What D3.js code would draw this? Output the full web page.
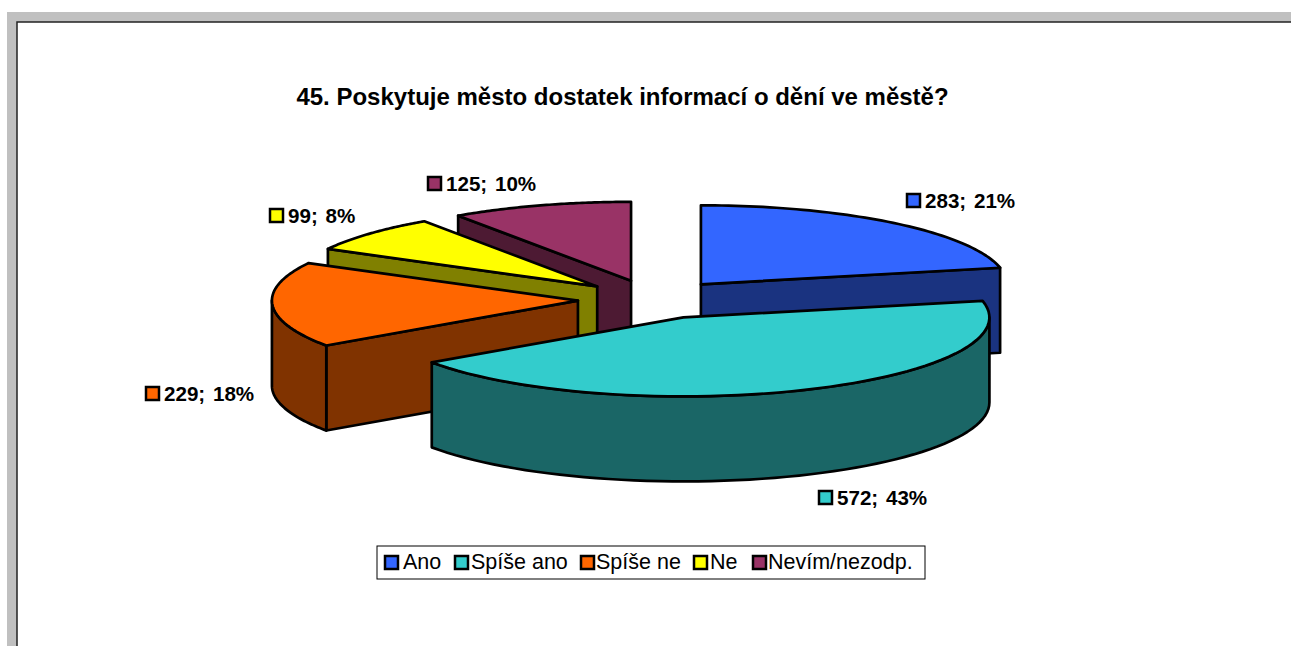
<!DOCTYPE html>
<html>
<head>
<meta charset="utf-8">
<script src="https://cdnjs.cloudflare.com/ajax/libs/d3/7.9.0/d3.min.js"></script>
<style>
  html, body { margin: 0; padding: 0; background: #fff; }
  svg { display: block; }
  text { font-family: "Liberation Sans", Arial, sans-serif; fill: #000; }
</style>
</head>
<body>
<svg id="chart" width="1291" height="646"></svg>
<script>
const TITLE = '45. Poskytuje město dostatek informací o dění ve městě?';
const categories = ['Ano', 'Spíše ano', 'Spíše ne', 'Ne', 'Nevím/nezodp.'];
const values = [283, 572, 229, 99, 125];
const percents = [21, 43, 18, 8, 10];
const topColors = ['#3366ff', '#33cccc', '#ff6600', '#ffff00', '#993366'];
const sideColors = ['#1a3380', '#1a6666', '#803300', '#808000', '#4d1a33'];

// layout
const W = 1291, H = 646;
const CX = 653.4, CY = 299.5, RX = 306, RY = 79, DEPTH = 85, EXPLODE = 0.247;
const drawOrder = [4, 3, 2, 0, 1];
const labelPos = [[906, 193], [818, 490], [145, 386], [269, 208], [427, 176]];
const legendPos = [384, 454, 580, 693, 752];
const legendTextX = [403, 471, 596, 710, 768];

const svg = d3.select('#chart');

// frame
svg.append('rect').attr('x', 7).attr('y', 12).attr('width', W - 7).attr('height', H - 12).attr('fill', '#c0c0c0');
svg.append('rect').attr('x', 17).attr('y', 22).attr('width', W - 17).attr('height', H - 22).attr('fill', '#fff');
svg.append('path').attr('d', `M17,${H}V22H${W}`).attr('fill', 'none').attr('stroke', '#222').attr('stroke-width', 1.5);

svg.append('text').attr('x', 622.5).attr('y', 105).attr('text-anchor', 'middle')
  .attr('font-size', 24).attr('font-weight', 'bold').text(TITLE);

// unit-circle coords -> screen
const sx = d3.scaleLinear().domain([-1, 1]).range([CX - RX, CX + RX]);
const sy = d3.scaleLinear().domain([-1, 1]).range([CY - RY, CY + RY]);
const line = d3.line();

const pie = d3.pie().sort(null).startAngle(0).endAngle(2 * Math.PI);
const slices = pie(values);

function pt(s, a, r, dy) {
  const mid = (s.startAngle + s.endAngle) / 2;
  const ux = EXPLODE * Math.sin(mid) + r * Math.sin(a);
  const uy = -EXPLODE * Math.cos(mid) - r * Math.cos(a);
  return [sx(ux), sy(uy) + dy];
}
const sweep = (a0, a1) => d3.range(0, 61).map((i) => a0 + (a1 - a0) * i / 60);

const pieG = svg.append('g').attr('stroke', '#000').attr('stroke-width', 2.7).attr('stroke-linejoin', 'round');

drawOrder.forEach((i) => {
  const s = slices[i];
  const a0 = s.startAngle, a1 = s.endAngle;
  const g = pieG.append('g');
  const cut = (a) => [pt(s, a, 0, 0), pt(s, a, 1, 0), pt(s, a, 1, DEPTH), pt(s, a, 0, DEPTH)];

  if (Math.sin(a0) < -1e-6) g.append('path').attr('d', line(cut(a0)) + 'Z').attr('fill', sideColors[i]);
  if (Math.sin(a1) > 1e-6) g.append('path').attr('d', line(cut(a1)) + 'Z').attr('fill', sideColors[i]);

  // outer wall, only the part turned to the viewer
  const r0 = Math.max(a0, Math.PI / 2), r1 = Math.min(a1, 3 * Math.PI / 2);
  if (r1 > r0) {
    const rim = sweep(r0, r1);
    const wall = rim.map((a) => pt(s, a, 1, 0)).concat(rim.slice().reverse().map((a) => pt(s, a, 1, DEPTH)));
    g.append('path').attr('d', line(wall) + 'Z').attr('fill', sideColors[i]);
  }

  const top = [pt(s, a0, 0, 0)].concat(sweep(a0, a1).map((a) => pt(s, a, 1, 0)));
  g.append('path').attr('d', line(top) + 'Z').attr('fill', topColors[i]);
});

function swatch(x, y, i) {
  svg.append('rect').attr('x', x + 1).attr('y', y + 1).attr('width', 13).attr('height', 13)
    .attr('fill', topColors[i]).attr('stroke', '#000').attr('stroke-width', 2.5);
}

// data labels
values.forEach((v, i) => {
  const [x, y] = labelPos[i];
  swatch(x, y, i);
  svg.append('text').attr('x', x + 19).attr('y', y + 15).attr('font-size', 20.6).attr('font-weight', 'bold')
    .attr('word-spacing', 2).text(`${v}; ${percents[i]}%`);
});

// legend
svg.append('rect').attr('x', 377).attr('y', 546).attr('width', 548).attr('height', 33)
  .attr('fill', '#fff').attr('stroke', '#000').attr('stroke-width', 1);
categories.forEach((c, i) => {
  swatch(legendPos[i], 555, i);
  svg.append('text').attr('x', legendTextX[i]).attr('y', 569).attr('font-size', 21.5).text(c);
});
</script>
</body>
</html>
